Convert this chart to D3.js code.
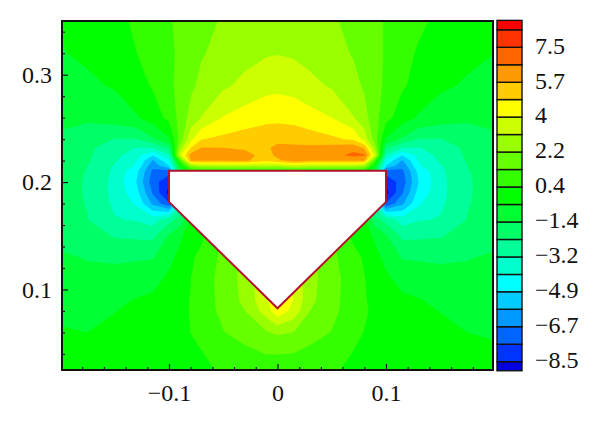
<!DOCTYPE html>
<html>
<head>
<meta charset="utf-8">
<script src="https://cdn.jsdelivr.net/npm/d3@7"></script>
<style>
  html, body { margin: 0; padding: 0; background: #fff; }
  svg { display: block; }
  text { font-family: "Liberation Serif", serif; font-size: 24px; fill: #111; }
</style>
</head>
<body>
<svg id="chart" width="600" height="444"></svg>
<script>
// contour levels, colour of each band (one more band than levels)
const levels = [-8.5, -7.61, -6.72, -5.83, -4.94, -4.06, -3.17, -2.28, -1.39, -0.5,
  0.39, 1.28, 2.17, 3.06, 3.95, 4.84, 5.72, 6.61, 7.5, 8.39];
const bandColors = ["#0000e0", "#0033ff", "#0066ff", "#0099ff", "#00ccff", "#00ffff",
  "#00ffcc", "#00ff99", "#00ff66", "#00ff33", "#00ff00", "#33ff00", "#66ff00", "#99ff00",
  "#ccff00", "#ffff00", "#ffcc00", "#ff9900", "#ff6600", "#ff3300", "#ff0000"];
const legendLabels = [7.5, 5.7, 4, 2.2, 0.4, -1.4, -3.2, -4.9, -6.7, -8.5];
const legendTickValues = [7.5, 5.72, 3.95, 2.17, 0.39, -1.39, -3.17, -4.94, -6.72, -8.5];
const barMin = -8.96;
const barMax = 8.87;

const xTicks = [-0.1, 0, 0.1];
const yTicks = [0.1, 0.2, 0.3];
const xMinor = [-0.18, -0.16, -0.14, -0.12, -0.08, -0.06, -0.04, -0.02, 0.02, 0.04, 0.06, 0.08, 0.12, 0.14, 0.16, 0.18];
const yMinor = [0.04, 0.06, 0.08, 0.12, 0.14, 0.16, 0.18, 0.22, 0.24, 0.26, 0.28, 0.32, 0.34];

// outline of the body
const bodyX = [-0.1, 0.1, 0.1, 0, -0.1];
const bodyY = [0.2105, 0.2105, 0.1815, 0.0825, 0.1815];

// values on an uneven grid (denser round the body)
const gridX = [-0.2, -0.175, -0.15, -0.13, -0.115, -0.1, -0.09, -0.08, -0.07, -0.05, -0.03, -0.01, 0,
  0.015, 0.03, 0.05, 0.07, 0.08, 0.09, 0.1, 0.115, 0.13, 0.15, 0.175, 0.2];
const gridY = [0.35, 0.32, 0.29, 0.26, 0.24, 0.232, 0.225, 0.22, 0.215, 0.21, 0.2, 0.19, 0.18,
  0.165, 0.15, 0.13, 0.11, 0.09, 0.08, 0.06, 0.04, 0.025];
const fieldRows = [
  [-0.45,-0.2,0.11,0.55,0.87,1.22,1.42,1.62,1.85,2.28,2.6,2.85,2.9,2.8,2.6,2.3,1.9,1.67,1.45,1.22,0.85,0.55,0.2,-0.1,-0.3],
  [-0.55,-0.35,-0.05,0.38,0.75,1.15,1.4,1.75,2.1,2.45,2.75,2.98,3.02,2.95,2.75,2.5,2.1,1.8,1.5,1.2,0.65,0.3,0,-0.3,-0.5],
  [-0.85,-0.65,-0.42,0.05,0.48,1.05,1.6,2.0,2.4,2.9,3.3,3.65,3.72,3.6,3.3,2.95,2.45,2.05,1.6,1.1,0.5,0.1,-0.35,-0.6,-0.8],
  [-1.15,-1.2,-0.95,-0.58,-0.1,0.65,1.55,2.5,3.1,4.0,4.35,4.58,4.62,4.55,4.3,3.95,3.1,2.5,1.6,0.7,-0.1,-0.6,-0.95,-1.2,-1.15],
  [-1.55,-1.95,-2.3,-2.3,-1.5,-0.6,1.6,3.7,4.8,5.05,5.25,5.42,5.45,5.4,5.25,5.0,4.7,3.6,1.7,-0.6,-1.5,-2.3,-2.3,-1.95,-1.55],
  [-1.7,-2.05,-2.85,-3.2,-3.1,-2.0,2.5,4.85,5.75,5.72,5.55,5.6,5.95,5.9,5.95,6.1,6.3,5.6,2.5,-2.0,-3.1,-3.2,-2.85,-2.05,-1.7],
  [-1.8,-2.15,-2.9,-3.75,-4.9,-3.3,3.6,6.0,6.25,6.2,6.1,5.3,6.0,6.3,6.3,6.3,6.85,6.7,3.6,-3.3,-4.9,-3.75,-2.9,-2.15,-1.8],
  [-1.85,-2.2,-3.05,-4.0,-5.9,-4.2,1.0,5.75,5.8,5.8,5.95,5.0,5.5,6.2,5.85,5.85,5.85,5.8,1.0,-4.2,-5.9,-4.0,-3.05,-2.2,-1.85],
  [-1.9,-2.28,-3.25,-4.2,-6.5,-5.0,-0.5,2.3,2.9,3.0,3.0,3.0,2.9,3.4,3.1,3.0,3.0,2.6,-0.5,-5.0,-6.5,-4.2,-3.25,-2.28,-1.9],
  [-1.95,-2.32,-3.35,-4.7,-6.9,-7.2,-1,0.1,0.1,0.1,0.1,0.1,0.1,0.1,0.1,0.1,0.1,0.1,-1,-7.2,-6.9,-4.7,-3.35,-2.32,-1.95],
  [-2.0,-2.35,-3.45,-4.95,-7.2,-8.3,0,0,0,0,0,0,0,0,0,0,0,0,0,-8.3,-7.2,-4.95,-3.45,-2.35,-2.0],
  [-2.0,-2.35,-3.45,-4.6,-6.8,-8.8,0,0,0,0,0,0,0,0,0,0,0,0,0,-8.8,-6.8,-4.6,-3.45,-2.35,-2.0],
  [-1.95,-2.33,-3.35,-4.2,-6.0,-7.5,-3.5,0,0,0,0,0,0,0,0,0,0,0,-3.5,-7.5,-6.0,-4.2,-3.35,-2.33,-1.95],
  [-1.85,-2.25,-3.1,-3.25,-3.6,-2.6,-1.9,-0.3,0,0.5,0.5,0.5,0.5,0.5,0.5,0.5,0,-0.3,-1.9,-2.6,-3.6,-3.25,-3.1,-2.25,-1.85],
  [-1.75,-1.9,-2.35,-2.45,-2.5,-1.3,-0.7,0,0.2,1.4,1.5,2,2,2,1.5,1.4,0.2,0,-0.7,-1.3,-2.5,-2.45,-2.35,-1.9,-1.75],
  [-1.25,-1.45,-1.55,-1.5,-1.45,-0.8,-0.2,0.25,0.65,1.5,2.4,3,3,3,2.4,1.5,0.65,0.3,-0.2,-0.8,-1.45,-1.5,-1.55,-1.45,-1.25],
  [-0.95,-1.1,-1.05,-0.9,-0.85,-0.3,0.1,0.38,0.85,1.6,2.5,3.8,5,3.8,2.5,1.6,0.85,0.42,0.1,-0.3,-0.85,-0.9,-1.05,-1.1,-0.95],
  [-0.75,-0.85,-0.68,-0.45,-0.3,-0.05,0.2,0.42,0.85,1.55,2.4,3.8,5,3.9,2.4,1.55,0.85,0.45,0.2,-0.05,-0.3,-0.45,-0.68,-0.85,-0.75],
  [-0.62,-0.72,-0.52,-0.32,-0.15,0.05,0.25,0.42,0.85,1.5,2.17,3.5,4.6,3.6,2.17,1.5,0.85,0.48,0.25,0.05,-0.15,-0.32,-0.52,-0.72,-0.62],
  [-0.45,-0.5,-0.3,-0.15,-0.05,0.08,0.25,0.4,0.6,1.25,1.6,2.1,2.3,2.15,1.6,1.25,0.6,0.37,0.25,0.08,-0.05,-0.15,-0.3,-0.5,-0.55],
  [-0.3,-0.3,-0.15,-0.05,0.05,0.1,0.2,0.25,0.35,0.75,1.05,1.3,1.3,1.25,1.05,0.75,0.35,0.25,0.2,0.1,0.05,-0.05,-0.2,-0.4,-0.42],
  [-0.2,-0.15,-0.05,0.05,0.1,0.15,0.2,0.22,0.3,0.45,0.6,0.75,0.8,0.75,0.6,0.45,0.3,0.22,0.2,0.15,0.1,0.05,-0.05,-0.15,-0.25]
];

const plot = { left: 62, right: 493, top: 21, bottom: 370 };
const bar = { left: 497, right: 522, labelX: 535 };

const svg = d3.select("#chart");
const x = d3.scaleLinear().domain([-0.1986, 0.1986]).range([plot.left, plot.right]);
const y = d3.scaleLinear().domain([0.025, 0.35]).range([plot.bottom, plot.top]);

svg.append("clipPath").attr("id", "plot-clip")
  .append("rect")
  .attr("x", plot.left).attr("y", plot.top)
  .attr("width", plot.right - plot.left).attr("height", plot.bottom - plot.top);

// --- filled contours ---
const nx = gridX.length;
const ny = gridY.length;
const contours = d3.contours().size([nx, ny]).thresholds(levels)(fieldRows.flat());

// grid index -> pixel, piecewise because the grid is uneven
const colToPx = d3.scaleLinear().domain(d3.range(nx)).range(gridX.map(x)).clamp(true);
const rowToPx = d3.scaleLinear().domain(d3.range(ny)).range(gridY.map(y)).clamp(true);
const gridPath = d3.geoPath(d3.geoTransform({
  point(cx, cy) { this.stream.point(colToPx(cx - 0.5), rowToPx(cy - 0.5)); }
}));

const field = svg.append("g").attr("clip-path", "url(#plot-clip)");
field.append("rect")
  .attr("x", plot.left).attr("y", plot.top)
  .attr("width", plot.right - plot.left).attr("height", plot.bottom - plot.top)
  .attr("fill", bandColors[0]);
field.selectAll("path")
  .data(contours)
  .join("path")
  .attr("d", gridPath)
  .attr("fill", (d, i) => bandColors[i + 1]);

// --- body ---
svg.append("polygon")
  .attr("points", bodyX.map((v, i) => `${x(v)},${y(bodyY[i])}`).join(" "))
  .attr("fill", "#fff")
  .attr("stroke", "#b3122f")
  .attr("stroke-width", 2);

// --- axes ---
const fmt = v => String(v).replace("-", "\u2212");
const xAxis = svg.append("g").attr("transform", `translate(0,${plot.bottom})`);
xAxis.call(d3.axisBottom(x).tickValues(xTicks).tickFormat(fmt).tickSize(-6).tickPadding(14));
const xMinorAxis = svg.append("g").attr("transform", `translate(0,${plot.bottom})`);
xMinorAxis.call(d3.axisBottom(x).tickValues(xMinor).tickFormat("").tickSize(-3));
const yAxis = svg.append("g").attr("transform", `translate(${plot.left},0)`);
yAxis.call(d3.axisLeft(y).tickValues(yTicks).tickFormat(fmt).tickSize(-6).tickPadding(10));
const yMinorAxis = svg.append("g").attr("transform", `translate(${plot.left},0)`);
yMinorAxis.call(d3.axisLeft(y).tickValues(yMinor).tickFormat("").tickSize(-3));
svg.selectAll(".domain").remove();
svg.selectAll(".tick line").attr("stroke", "#111").attr("stroke-width", 1.2);
svg.selectAll(".tick text").attr("font-family", null).attr("font-size", null);
svg.selectAll("g").filter(function () { return this.hasAttribute("font-size"); })
  .attr("font-size", null).attr("font-family", null);

svg.append("rect")
  .attr("x", plot.left).attr("y", plot.top)
  .attr("width", plot.right - plot.left).attr("height", plot.bottom - plot.top)
  .attr("fill", "none").attr("stroke", "#111").attr("stroke-width", 2);

// --- colour bar ---
const barScale = d3.scaleLinear().domain([-8.5, 7.5]).range([361.7, 47.3]);
const edges = [barMin, ...levels, barMax];
svg.append("g").selectAll("rect")
  .data(bandColors)
  .join("rect")
  .attr("x", bar.left)
  .attr("width", bar.right - bar.left)
  .attr("y", (d, i) => barScale(edges[i + 1]))
  .attr("height", (d, i) => barScale(edges[i]) - barScale(edges[i + 1]))
  .attr("fill", d => d)
  .attr("stroke", "#111")
  .attr("stroke-width", 1.4);

svg.append("g").selectAll("text")
  .data(legendLabels)
  .join("text")
  .attr("x", bar.labelX)
  .attr("y", (d, i) => barScale(legendTickValues[i]) - 2)
  .attr("dy", "0.35em")
  .text(fmt);
</script>
</body>
</html>
